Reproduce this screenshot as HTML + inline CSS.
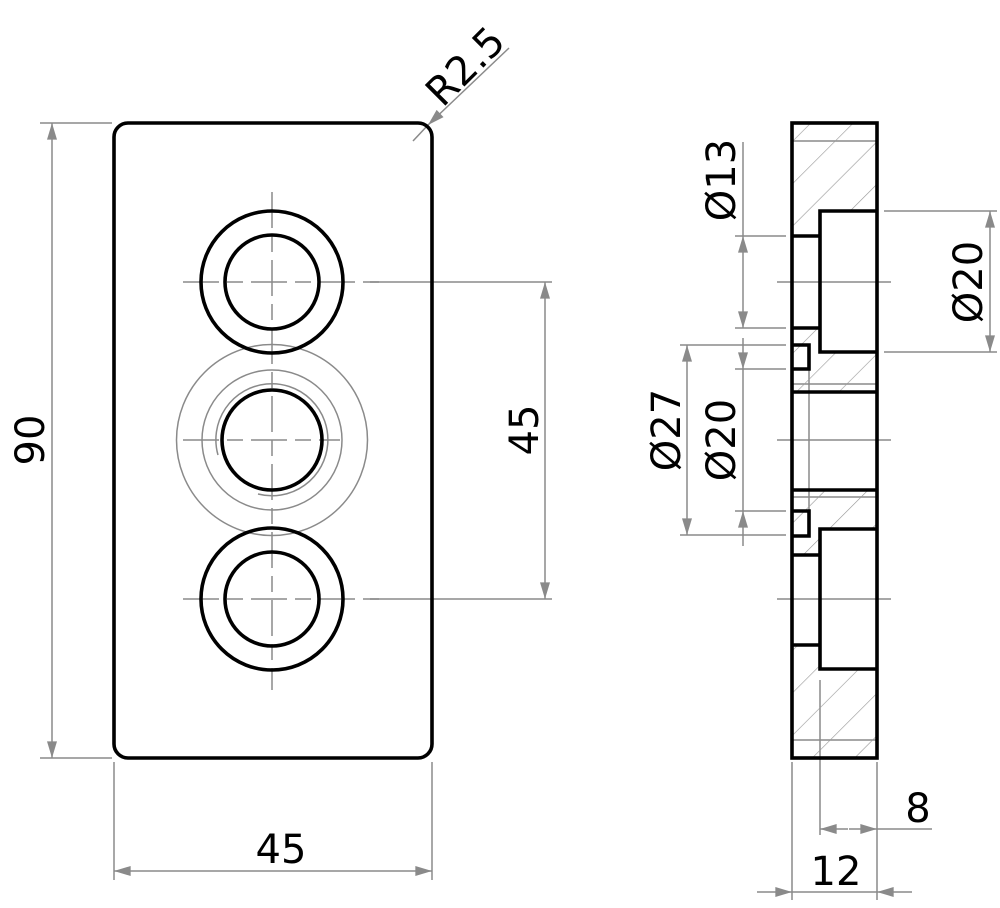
<!DOCTYPE html>
<html><head><meta charset="utf-8"><style>html,body{margin:0;padding:0;background:#fff}svg{display:block}</style></head>
<body>
<svg width="1000" height="908" viewBox="0 0 1000 908" xmlns="http://www.w3.org/2000/svg" font-family="'DejaVu Sans','Liberation Sans',sans-serif">
<defs>
<marker id="a" viewBox="0 0 10 6" refX="10" refY="3" markerWidth="26" markerHeight="10" markerUnits="userSpaceOnUse" orient="auto-start-reverse"><path d="M0,0L10,3L0,6z" fill="#8a8a8a"/></marker>
<pattern id="h" patternUnits="userSpaceOnUse" width="30" height="30" patternTransform="rotate(-45)"><line x1="0" y1="0" x2="30" y2="0" stroke="#999" stroke-width="1.3"/></pattern>
</defs>
<g stroke="#8a8a8a" stroke-width="1.5" fill="none">
<line x1="40" y1="123" x2="112" y2="123"/><line x1="40" y1="758" x2="112" y2="758"/>
<line x1="52" y1="123" x2="52" y2="758" marker-start="url(#a)" marker-end="url(#a)"/>
<line x1="370" y1="282" x2="552" y2="282"/><line x1="370" y1="599" x2="552" y2="599"/>
<line x1="545" y1="282" x2="545" y2="599" marker-start="url(#a)" marker-end="url(#a)"/>
<line x1="114" y1="762" x2="114" y2="880"/><line x1="432" y1="762" x2="432" y2="880"/>
<line x1="114" y1="871" x2="432" y2="871" marker-start="url(#a)" marker-end="url(#a)"/>
<line x1="509" y1="48" x2="428" y2="125" marker-end="url(#a)"/><line x1="428" y1="125" x2="413" y2="141"/>
<g stroke-dasharray="36,8,16,8">
<line x1="183" y1="282" x2="380" y2="282"/><line x1="183" y1="440" x2="340" y2="440"/><line x1="183" y1="599" x2="380" y2="599"/>
<line x1="272" y1="192" x2="272" y2="690"/>
</g>
<circle cx="272" cy="440" r="95.5"/><circle cx="272" cy="440" r="70"/>
<path d="M218,455 A56,56 0 1 1 258,494"/>
<line x1="777" y1="282" x2="891" y2="282"/><line x1="777" y1="440" x2="891" y2="440"/><line x1="777" y1="599" x2="891" y2="599"/>
<line x1="792" y1="141" x2="877" y2="141"/><line x1="792" y1="740" x2="877" y2="740"/>
<line x1="792" y1="384" x2="877" y2="384"/><line x1="792" y1="497" x2="877" y2="497"/>
<line x1="809" y1="369" x2="809" y2="511"/>
<line x1="884" y1="211" x2="997" y2="211"/><line x1="884" y1="352" x2="997" y2="352"/>
<line x1="990" y1="211" x2="990" y2="352" marker-start="url(#a)" marker-end="url(#a)"/>
<line x1="735" y1="236" x2="786" y2="236"/><line x1="735" y1="328" x2="786" y2="328"/>
<line x1="743" y1="142" x2="743" y2="236"/>
<line x1="743" y1="236" x2="743" y2="328" marker-start="url(#a)" marker-end="url(#a)"/>
<line x1="680" y1="345" x2="786" y2="345"/><line x1="680" y1="535" x2="786" y2="535"/>
<line x1="687" y1="345" x2="687" y2="535" marker-start="url(#a)" marker-end="url(#a)"/>
<line x1="735" y1="369" x2="786" y2="369"/><line x1="735" y1="511" x2="786" y2="511"/>
<line x1="743" y1="338" x2="743" y2="369" marker-end="url(#a)"/>
<line x1="743" y1="369" x2="743" y2="511"/>
<line x1="743" y1="546" x2="743" y2="511" marker-end="url(#a)"/>
<line x1="792" y1="762" x2="792" y2="900"/><line x1="877" y1="762" x2="877" y2="900"/>
<line x1="820" y1="680" x2="820" y2="835"/>
<line x1="848" y1="829" x2="820" y2="829" marker-end="url(#a)"/>
<line x1="849" y1="829" x2="877" y2="829" marker-end="url(#a)"/><line x1="877" y1="829" x2="932" y2="829"/>
<line x1="757" y1="892" x2="792" y2="892" marker-end="url(#a)"/>
<line x1="912" y1="892" x2="877" y2="892" marker-end="url(#a)"/><line x1="792" y1="892" x2="877" y2="892"/>
</g>
<path d="M792,123H877V211H820V236H792Z M792,328H820V352H877V392H792Z M792,490H877V529H820V555H792Z M792,645H820V669H877V758H792Z" fill="url(#h)"/>
<g stroke="#000" stroke-width="3.6" fill="none">
<rect x="114" y="123" width="318" height="635" rx="14"/>
<circle cx="272" cy="282" r="71"/><circle cx="272" cy="282" r="47"/>
<circle cx="272" cy="440" r="50"/>
<circle cx="272" cy="599" r="71"/><circle cx="272" cy="599" r="47"/>
<rect x="792" y="123" width="85" height="635"/>
<path d="M792,236H820V211H877 M820,236V352H877 M792,328H820"/>
<path d="M792,392H877 M792,490H877"/>
<path d="M792,345H809V369H792"/><path d="M792,511H809V536H792"/>
<path d="M792,555H820V529H877 M820,555V669H877 M792,645H820"/>
</g>
<g font-size="40" fill="#000" text-anchor="middle">
<text transform="translate(44,440) rotate(-90)">90</text>
<text transform="translate(538,430) rotate(-90)">45</text>
<text x="281" y="863">45</text>
<text transform="translate(475,76) rotate(-45)">R2.5</text>
<text transform="translate(735,180) rotate(-90)">Ø13</text>
<text transform="translate(982,282) rotate(-90)">Ø20</text>
<text transform="translate(680,430) rotate(-90)">Ø27</text>
<text transform="translate(735,440) rotate(-90)">Ø20</text>
<text x="918" y="822">8</text>
<text x="836" y="885">12</text>
</g>
</svg>
</body></html>
